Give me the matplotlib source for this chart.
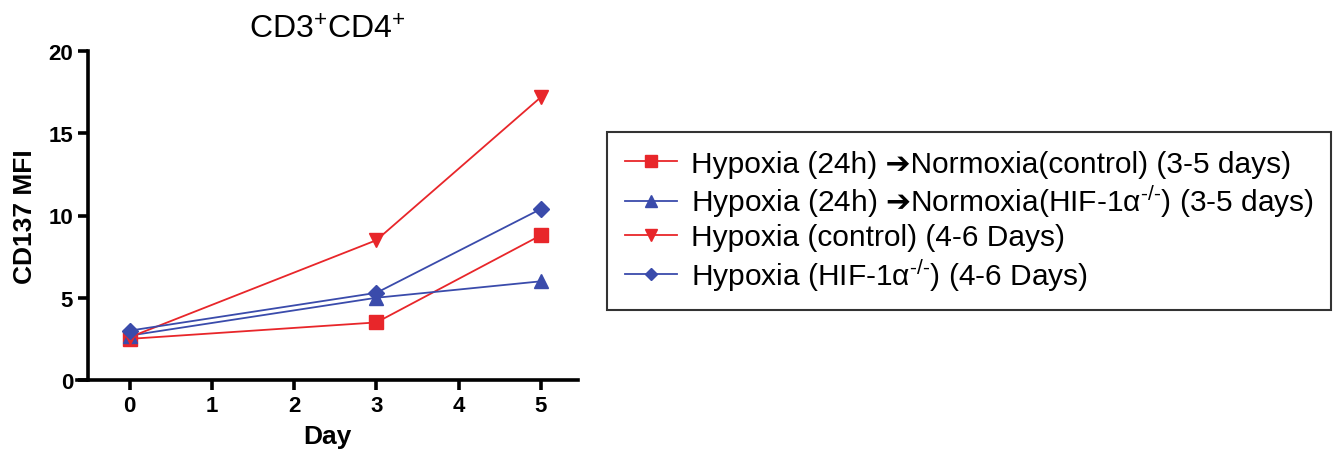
import matplotlib
matplotlib.use("Agg")
import matplotlib.pyplot as plt

plt.rcParams['font.family'] = ['Liberation Sans', 'DejaVu Sans']
plt.rcParams['mathtext.fontset'] = 'custom'
plt.rcParams['mathtext.rm'] = 'Liberation Sans'
plt.rcParams['mathtext.it'] = 'Liberation Sans'
plt.rcParams['mathtext.bf'] = 'Liberation Sans:bold'
plt.rcParams['mathtext.sf'] = 'DejaVu Sans'
plt.rcParams['mathtext.fallback'] = 'stixsans'

days = [0, 3, 5]
labels = [
    "Hypoxia (24h) \u2794Normoxia(control) (3-5 days)",
    "Hypoxia (24h) $\\mathsf{\u2794}$Normoxia(HIF-1\u03b1$^{\u2010/\u2010}$) (3-5 days)",
    "Hypoxia (control) (4-6 Days)",
    "Hypoxia (HIF-1\u03b1$^{\u2010/\u2010}$) (4-6 Days)",
]
norm_control = [2.5, 3.5, 8.8]
norm_hif = [2.7, 5.0, 6.0]
hyp_control = [2.6, 8.5, 17.2]
hyp_hif = [3.0, 5.3, 10.4]
series = [norm_control, norm_hif, hyp_control, hyp_hif]
colors = ['#e8262a', '#3a4bab', '#e8262a', '#3a4bab']
markers = ['s', '^', 'v', 'D']
msizes = [10, 10, 10, 8]

fig = plt.figure(figsize=(13.42, 4.6), dpi=100)
ax = fig.add_axes([77/1342, 1-381/460, (578-77)/1342, (381-52)/460])

for vals, lab, c, m, ms in zip(series, labels, colors, markers, msizes):
    ax.plot(days, vals, color=c, marker=m, markersize=ms, linewidth=1.3, label=lab)

ax.set_xlim(-0.64, 5.45)
ax.set_ylim(0, 20)
ax.spines['left'].set_position(('data', -0.51))
ax.set_xticks([0, 1, 2, 3, 4, 5])
ax.set_yticks([0, 5, 10, 15, 20])
for s in ['top', 'right']:
    ax.spines[s].set_visible(False)
for s in ['left', 'bottom']:
    ax.spines[s].set_linewidth(2.6)
ax.tick_params(axis='both', width=2.6, length=7, labelsize=16, direction='out')
for t in ax.get_xticklabels() + ax.get_yticklabels():
    t.set_fontweight('bold')
ax.set_xlabel('Day', fontsize=19, fontweight='bold', labelpad=6)
ax.set_ylabel('CD137 MFI', fontsize=19, fontweight='bold', labelpad=8)
ax.set_title('CD3$^{+}$CD4$^{+}$', fontsize=23, pad=10)

leg = fig.legend(loc='upper left', bbox_to_anchor=(607/1342, 1-133/460),
                 fontsize=21.5, frameon=True, fancybox=False, edgecolor='black',
                 handlelength=1.75, handletextpad=0.45, labelspacing=0.15,
                 borderpad=0.6, borderaxespad=0, markerscale=0.8)
leg.get_frame().set_linewidth(1.5)

fig.savefig('out.png', dpi=100)
